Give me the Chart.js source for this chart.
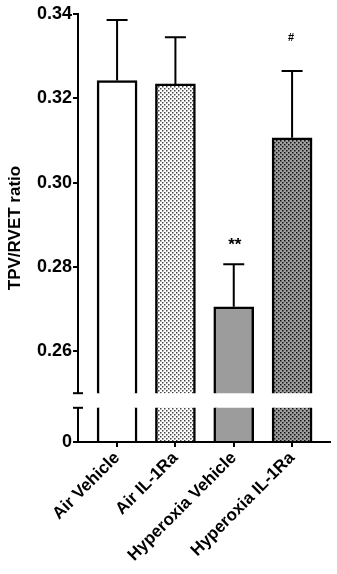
<!DOCTYPE html>
<html>
<head>
<meta charset="utf-8">
<script src="https://cdn.jsdelivr.net/npm/chart.js@4.4.1/dist/chart.umd.min.js"></script>
<style>
  body { margin: 0; background: #fff; }
  #wrap { position: relative; width: 337px; height: 574px; }
  canvas { position: absolute; left: 0; }
  #top { top: 0; z-index: 2; }
  #bottom { top: 396px; z-index: 1; }
</style>
</head>
<body>
<div id="wrap">
  <canvas id="top" width="337" height="405"></canvas>
  <canvas id="bottom" width="337" height="178"></canvas>
</div>
<script>
// datos
const grupos = ['Air Vehicle', 'Air IL-1Ra', 'Hyperoxia Vehicle', 'Hyperoxia IL-1Ra'];
const medias = [0.3242, 0.3234, 0.2705, 0.3106];
const errores = [0.0144, 0.0111, 0.0101, 0.0159];
const marcas = ['', '', '**', '#'];
const ticksArriba = [0.26, 0.28, 0.30, 0.32, 0.34];
const ticksAbajo = [0];

const fuente = "'Liberation Sans', Arial, sans-serif";

//patron de puntos para las barras punteadas
function patron(fondo, punto) {
  const c = document.createElement('canvas');
  c.width = 4; c.height = 4;
  const g = c.getContext('2d');
  g.fillStyle = fondo;
  g.fillRect(0, 0, 4, 4);
  g.fillStyle = punto;
  g.fillRect(0, 0, 1.5, 1.5);
  g.fillRect(2, 2, 1.5, 1.5);
  return g.createPattern(c, 'repeat');
}

const rellenos = [
  '#ffffff',
  patron('#ffffff', '#444444'),
  '#9c9c9c',
  patron('#a0a0a0', '#111111')
];

const puntos = medias.map((v, i) => ({ x: i, y: v }));

function datasetBarras() {
  return [{
    data: puntos,
    backgroundColor: rellenos,
    borderColor: '#000',
    borderWidth: 2.5,
    borderSkipped: 'bottom',
    barThickness: 40,
    clip: 0
  }];
}

function ejeY(min, max, valores, decimales) {
  return {
    type: 'linear',
    min: min,
    max: max,
    afterBuildTicks: s => { s.ticks = valores.map(v => ({ value: v })); },
    afterFit: s => { s.width = 78; },
    border: { display: true, color: '#000', width: 2 },
    grid: { drawOnChartArea: false, drawTicks: true, tickLength: 5, color: '#000', lineWidth: 2 },
    ticks: {
      color: '#000',
      padding: 1,
      font: { family: fuente, size: 18, weight: 'bold' },
      callback: v => decimales ? Number(v).toFixed(2) : String(v)
    }
  };
}

// marca de corte del eje
const corte = {
  id: 'corte',
  afterDraw(chart, args, opts) {
    const ctx = chart.ctx;
    const a = chart.chartArea;
    const y = opts.lado === 'abajo' ? a.bottom : a.top;
    ctx.save();
    ctx.strokeStyle = '#000';
    ctx.lineWidth = 2;
    ctx.beginPath();
    ctx.moveTo(a.left - 5, y);
    ctx.lineTo(a.left + 5, y);
    ctx.stroke();
    ctx.restore();
  }
};

// barras de error y asteriscos
const errorBars = {
  id: 'errorBars',
  afterDatasetsDraw(chart) {
    const ctx = chart.ctx;
    const xs = chart.scales.x, ys = chart.scales.y;
    ctx.save();
    ctx.strokeStyle = '#000';
    ctx.lineWidth = 2;
    medias.forEach((m, i) => {
      const x = xs.getPixelForValue(i);
      const y0 = ys.getPixelForValue(m);
      const y1 = ys.getPixelForValue(m + errores[i]);
      ctx.beginPath();
      ctx.moveTo(x, y0);
      ctx.lineTo(x, y1);
      ctx.moveTo(x - 10.5, y1);
      ctx.lineTo(x + 10.5, y1);
      ctx.stroke();
      if (marcas[i]) {
        ctx.fillStyle = '#000';
        ctx.textAlign = 'center';
        ctx.textBaseline = 'middle';
        if (marcas[i] === '#') {
          ctx.font = 'bold 11px ' + fuente;
          ctx.fillText(marcas[i], x - 1, y1 - 33);
        } else {
          ctx.font = 'bold 17px ' + fuente;
          ctx.fillText(marcas[i], x + 1, y1 - 19);
        }
      }
    });
    ctx.restore();
  }
};

const tituloY = {
  id: 'tituloY',
  afterDraw(chart) {
    const ctx = chart.ctx;
    ctx.save();
    ctx.translate(15, 228);
    ctx.rotate(-Math.PI / 2);
    ctx.fillStyle = '#000';
    ctx.font = 'bold 17px ' + fuente;
    ctx.textAlign = 'center';
    ctx.textBaseline = 'middle';
    ctx.fillText('TPV/RVET ratio', 0, 0);
    ctx.restore();
  }
};

const ejeXComun = {
  type: 'linear',
  offset: false,
  min: -0.67,
  max: 3.65,
  afterBuildTicks: s => { s.ticks = grupos.map((g, i) => ({ value: i })); }
};

new Chart(document.getElementById('top'), {
  type: 'bar',
  data: { datasets: datasetBarras() },
  options: {
    responsive: false,
    animation: false,
    layout: { padding: { top: 14, bottom: 0, right: 7, left: 0 } },
    plugins: { legend: { display: false }, tooltip: { enabled: false }, corte: { lado: 'abajo' } },
    scales: {
      x: Object.assign({}, ejeXComun, { display: false, grid: { offset: false } }),
      y: ejeY(0.25, 0.34, ticksArriba, true)
    }
  },
  plugins: [corte, errorBars, tituloY]
});

new Chart(document.getElementById('bottom'), {
  type: 'bar',
  data: { datasets: datasetBarras() },
  options: {
    responsive: false,
    animation: false,
    layout: { padding: { top: 0, bottom: 0, right: 7, left: 0 } },
    plugins: { legend: { display: false }, tooltip: { enabled: false }, corte: { lado: 'arriba' } },
    scales: {
      x: Object.assign({}, ejeXComun, {
        afterFit: s => { s.height = 132; },
        border: { display: true, color: '#000', width: 2 },
        grid: { offset: false, drawOnChartArea: false, drawTicks: true, tickLength: 5, color: '#000', lineWidth: 2 },
        ticks: {
          color: '#000',
          autoSkip: false,
          maxRotation: 45,
          minRotation: 45,
          padding: 1,
          font: { family: fuente, size: 17, weight: 'bold' },
          callback: v => grupos[v] || ''
        }
      }),
      y: ejeY(0, 0.01, ticksAbajo, false)
    }
  },
  plugins: [corte]
});
</script>
</body>
</html>
